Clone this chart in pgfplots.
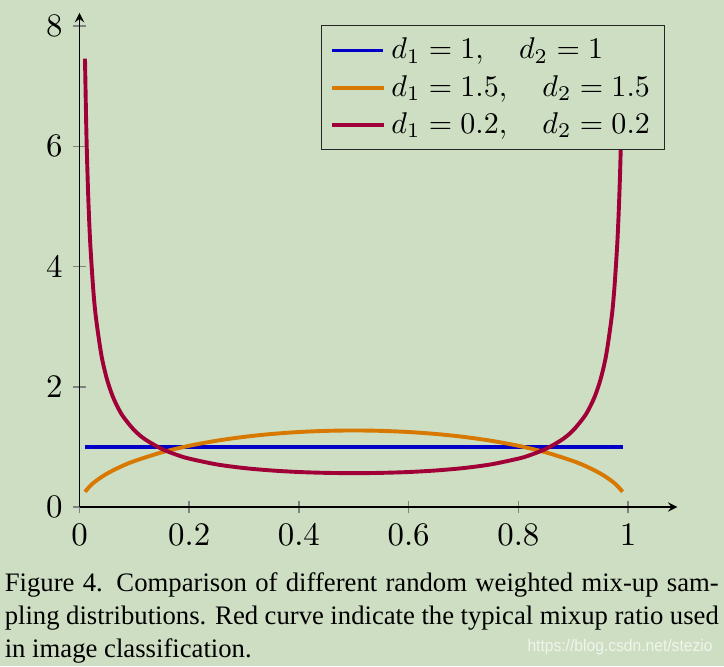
\documentclass[border=0pt]{standalone}
\usepackage{fontspec}
\usepackage{pgfplots}
\pgfplotsset{compat=1.18}
\newfontfamily\capfont{Liberation Serif}
\newfontfamily\wmfont{Liberation Sans}
\definecolor{bgc}{RGB}{206,222,194}
\definecolor{cblue}{RGB}{0,0,200}
\definecolor{corange}{RGB}{215,120,0}
\definecolor{cred}{RGB}{160,0,55}
\begin{document}
\begin{tikzpicture}
\useasboundingbox (0,0) rectangle (241.33pt,-222pt);
\fill[bgc] (0,0) rectangle (241.33pt,-222pt);
\begin{axis}[
  at={(26.5pt,-169pt)}, anchor=south west,
  scale only axis, width=199.3pt, height=164.7pt,
  xmin=0, xmax=1.09, ymin=0, ymax=8.22,
  axis lines=left, axis line style={-stealth, black},
  tick align=center,
  tick style={black!50, line width=0.5pt},
  xtick={0,0.2,0.4,0.6,0.8,1}, ytick={0,2,4,6,8},
  tick label style={font=\fontsize{10.9}{13}\selectfont},
  legend style={fill=bgc, draw=black!85, font=\fontsize{10.1}{12}\selectfont,
    at={(0.98,0.975)}, anchor=north east},
  legend cell align=left,
]
\addplot[cblue, line width=1.3pt] coordinates {(0.01,1) (0.99,1)};
\addlegendentry{$d_1 = 1, \quad d_2 = 1$}
\addplot[corange, line width=1.3pt, smooth] coordinates {
(0.01,0.2534) (0.02,0.3565) (0.03,0.4344) (0.05,0.5550) (0.075,0.6707) (0.10,0.7639)
(0.15,0.9093) (0.20,1.0186) (0.25,1.1027) (0.30,1.1669) (0.35,1.2146) (0.40,1.2475)
(0.45,1.2668) (0.50,1.2732) (0.55,1.2668) (0.60,1.2475) (0.65,1.2146) (0.70,1.1669)
(0.75,1.1027) (0.80,1.0186) (0.85,0.9093) (0.90,0.7639) (0.925,0.6707) (0.95,0.5550)
(0.97,0.4344) (0.98,0.3565) (0.99,0.2534)};
\addlegendentry{$d_1 = 1.5, \quad d_2 = 1.5$}
\addplot[cred, line width=1.3pt, smooth] coordinates {
(0.01,7.459) (0.0125,6.253) (0.015,5.415) (0.0175,4.797) (0.02,4.320) (0.025,3.628)
(0.03,3.149) (0.04,2.522) (0.05,2.128) (0.06,1.854) (0.07,1.654) (0.08,1.499)
(0.10,1.276) (0.12,1.123) (0.15,0.966) (0.18,0.859) (0.20,0.805) (0.25,0.709)
(0.30,0.648) (0.35,0.608) (0.40,0.582) (0.45,0.568) (0.50,0.563) (0.55,0.568)
(0.60,0.582) (0.65,0.608) (0.70,0.648) (0.75,0.709) (0.80,0.805) (0.82,0.859)
(0.85,0.966) (0.88,1.123) (0.90,1.276) (0.92,1.499) (0.93,1.654) (0.94,1.854)
(0.95,2.128) (0.96,2.522) (0.97,3.149) (0.975,3.628) (0.98,4.320) (0.9825,4.797)
(0.985,5.415) (0.9875,6.253) (0.99,7.459)};
\addlegendentry{$d_1 = 0.2, \quad d_2 = 0.2$}
\end{axis}
\begin{scope}[font=\capfont\fontsize{8.9}{11}\selectfont]
\node[anchor=base west, inner sep=0pt] at (1.4pt,-197pt) {\makebox[238pt][s]{Figure 4. Comparison of different random weighted mix-up sam-}};
\node[anchor=base west, inner sep=0pt] at (1.4pt,-208pt) {\makebox[238pt][s]{pling distributions. Red curve indicate the typical mixup ratio used}};
\node[anchor=base west, inner sep=0pt] at (1.4pt,-219pt) {in image classification.};
\end{scope}
\node[anchor=base east, inner sep=0pt, text=white, text opacity=0.7] at (237.7pt,-217.2pt)
  {\scalebox{0.93}[1]{\wmfont\fontsize{5.6}{6}\selectfont https://blog.csdn.net/stezio}};
\end{tikzpicture}
\end{document}
